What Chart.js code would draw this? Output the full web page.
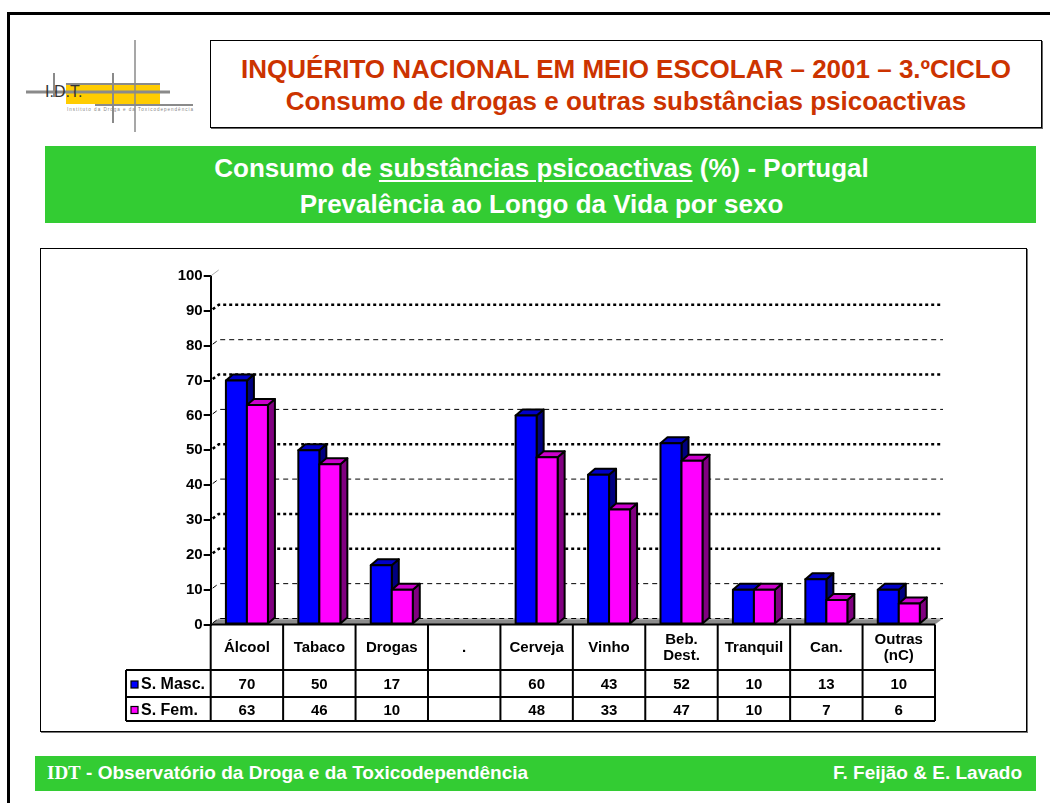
<!DOCTYPE html>
<html lang="pt">
<head>
<meta charset="utf-8">
<title>Consumo de substâncias psicoactivas</title>
<script src="https://cdn.jsdelivr.net/npm/chart.js@4.4.1/dist/chart.umd.min.js"></script>
<style>
html,body{margin:0;padding:0;background:#fff;}
body{position:relative;width:1050px;height:803px;overflow:hidden;font-family:"Liberation Sans",Arial,Helvetica,sans-serif;}
.a{position:absolute;box-sizing:border-box;}
#ft{left:7px;top:12px;width:1043px;height:3px;background:#000;}
#fl{left:7px;top:12px;width:3px;height:791px;background:#000;}
#tbox{left:210px;top:40px;width:832px;height:88px;border:1.5px solid #000;box-shadow:1px 1px 0 #666;}
.t{position:absolute;left:210px;width:832px;text-align:center;font-weight:bold;font-size:26px;line-height:30px;color:#CC3300;white-space:nowrap;}
#gband{left:45px;top:146px;width:991px;height:77px;background:#33CC33;}
.g{position:absolute;left:46px;width:991px;text-align:center;font-weight:bold;font-size:26px;line-height:30px;color:#fff;white-space:nowrap;}
.g u{text-decoration-thickness:2px;text-underline-offset:3px;}
#cbox{left:40px;top:248px;width:987px;height:484px;border:1.5px solid #000;box-shadow:1px 1px 0 #777;}
#chart{position:absolute;left:41px;top:249px;}
#foot{left:35px;top:756px;width:1001px;height:35px;background:#33CC33;}
.f{position:absolute;top:762px;font-weight:bold;font-size:19px;line-height:22px;color:#fff;white-space:nowrap;}
.f .serif{font-family:"Liberation Serif","Times New Roman",serif;}
#logo{position:absolute;left:0;top:0;}
</style>
</head>
<body>
<div class="a" id="ft"></div>
<div class="a" id="fl"></div>

<svg id="logo" width="220" height="140" xmlns="http://www.w3.org/2000/svg">
  <rect x="66" y="85" width="94" height="19" fill="#FFCC00"/>
  <line x1="66" y1="84" x2="160" y2="84" stroke="#8a8a8a" stroke-width="2"/>
  <line x1="26" y1="92" x2="170" y2="92" stroke="#8a8a8a" stroke-width="3"/>
  <line x1="95" y1="105" x2="193" y2="105" stroke="#8a8a8a" stroke-width="2"/>
  <line x1="54" y1="73" x2="54" y2="97" stroke="#8a8a8a" stroke-width="2"/>
  <line x1="113" y1="73" x2="113" y2="123" stroke="#8a8a8a" stroke-width="2"/>
  <line x1="135" y1="40" x2="135" y2="132" stroke="#8a8a8a" stroke-width="1.5"/>
  <text x="45" y="97" font-family="Liberation Sans, Arial" font-size="16" fill="#333">I.D.T.</text>
  <text x="67" y="111" font-family="Liberation Sans, Arial" font-size="4.6" fill="#888" textLength="126">Instituto da Droga e da Toxicodependência</text>
</svg>

<div class="a" id="tbox"></div>
<div class="t" style="top:53.5px">INQUÉRITO NACIONAL EM MEIO ESCOLAR – 2001 – 3.ºCICLO</div>
<div class="t" style="top:85.5px">Consumo de drogas e outras substâncias psicoactivas</div>

<div class="a" id="gband"></div>
<div class="g" style="top:152.5px">Consumo de <u>substâncias psicoactivas</u> (%) - Portugal</div>
<div class="g" style="top:188.5px">Prevalência ao Longo da Vida por sexo</div>

<div class="a" id="cbox"></div>
<canvas id="chart" width="984" height="481"></canvas>

<div class="a" id="foot"></div>
<div class="f" style="left:47px"><span class="serif">IDT</span> - Observatório da Droga e da Toxicodependência</div>
<div class="f" style="right:28px">F. Feijão &amp; E. Lavado</div>

<script>
// ---------- DATA ----------
const categories = ['Álcool', 'Tabaco', 'Drogas', '.', 'Cerveja', 'Vinho', ['Beb.', 'Dest.'], 'Tranquil', 'Can.', ['Outras', '(nC)']];
const seriesNames = ['S. Masc.', 'S. Fem.'];
const mascValues = [70, 50, 17, null, 60, 43, 52, 10, 13, 10];
const femValues  = [63, 46, 10, null, 48, 33, 47, 10, 7, 6];
const yTickValues = [0, 10, 20, 30, 40, 50, 60, 70, 80, 90, 100];

// ---------- STYLE ----------
const thickGridValues = [20, 30, 50, 70, 90];
const FRONT = ['#0000FF', '#FF00FF'];
const SIDE  = ['#000080', '#800080'];
const TOPC  = ['#0000C8', '#CC00CC'];
const DX = 7, DY = 6;          // bar depth
const WX = 8, WY = 6;          // back wall offset
const FONT = '"Liberation Sans", Arial, sans-serif';

function poly(ctx, pts, fill) {
  ctx.beginPath();
  ctx.moveTo(pts[0][0], pts[0][1]);
  for (let k = 1; k < pts.length; k++) ctx.lineTo(pts[k][0], pts[k][1]);
  ctx.closePath();
  ctx.fillStyle = fill;
  ctx.fill();
  ctx.stroke();
}

const bar3d = {
  id: 'bar3d',
  beforeDatasetsDraw(chart) {
    const {ctx, chartArea: ca, scales: {y}} = chart;
    ctx.save();
    const y0 = y.getPixelForValue(0);
    // floor
    ctx.beginPath();
    ctx.moveTo(ca.left, y0); ctx.lineTo(ca.right, y0);
    ctx.lineTo(ca.right + WX, y0 - WY); ctx.lineTo(ca.left + WX, y0 - WY);
    ctx.closePath();
    ctx.fillStyle = '#8c8c8c';
    ctx.fill();
    ctx.strokeStyle = '#c8c8c8'; ctx.lineWidth = 1;
    ctx.beginPath(); ctx.moveTo(ca.left + WX, y0 - WY + 0.5); ctx.lineTo(ca.right + WX, y0 - WY + 0.5); ctx.stroke();
    // top of left wall
    ctx.strokeStyle = '#aaa';
    ctx.beginPath(); ctx.moveTo(ca.left, ca.top); ctx.lineTo(ca.left + WX, ca.top - WY); ctx.stroke();
    // gridlines on back wall
    ctx.strokeStyle = '#000';
    yTickValues.forEach(v => {
      if (v === yTickValues[yTickValues.length - 1]) return;
      const py = y.getPixelForValue(v);
      const thick = thickGridValues.includes(v);
      ctx.lineWidth = thick ? 2.5 : 1;
      ctx.setLineDash(thick ? [3, 3] : [5, 4]);
      ctx.beginPath();
      ctx.moveTo(ca.left + 2, py - 1.5);
      ctx.lineTo(ca.left + WX, py - WY);
      ctx.lineTo(ca.right + WX, py - WY);
      ctx.stroke();
    });
    ctx.restore();
  },
  afterDatasetsDraw(chart) {
    const ctx = chart.ctx;
    ctx.save();
    ctx.lineWidth = 2; ctx.strokeStyle = '#000'; ctx.lineJoin = 'round'; ctx.setLineDash([]);
    for (let i = 0; i < categories.length; i++) {
      for (let d = 0; d < chart.data.datasets.length; d++) {
        const v = chart.data.datasets[d].data[i];
        if (v == null) continue;
        const el = chart.getDatasetMeta(d).data[i];
        const {x, y, base, width} = el.getProps(['x', 'y', 'base', 'width'], true);
        const l = x - width / 2, r = x + width / 2;
        poly(ctx, [[r, base], [r + DX, base - DY], [r + DX, y - DY], [r, y]], SIDE[d]);
        poly(ctx, [[l, y], [l + DX, y - DY], [r + DX, y - DY], [r, y]], TOPC[d]);
        poly(ctx, [[l, y], [r, y], [r, base], [l, base]], FRONT[d]);
      }
    }
    ctx.restore();
  },
  afterDraw(chart) {
    const {ctx, chartArea: ca, scales: {x}} = chart;
    const n = categories.length;
    const catW = (ca.right - ca.left) / n;
    const top = ca.bottom;
    const hB = top + 45.5, r1 = hB + 27, bot = r1 + 24;
    const tl = ca.left - 84.7;
    ctx.save();
    ctx.strokeStyle = '#000'; ctx.lineWidth = 2; ctx.setLineDash([]);
    ctx.beginPath();
    ctx.moveTo(ca.left, top); ctx.lineTo(ca.right, top);
    [hB, r1, bot].forEach(yy => { ctx.moveTo(tl, yy); ctx.lineTo(ca.right, yy); });
    for (let i = 0; i <= n; i++) {
      const xx = ca.left + i * catW;
      ctx.moveTo(xx, top); ctx.lineTo(xx, bot);
    }
    ctx.moveTo(tl, hB); ctx.lineTo(tl, bot);
    ctx.stroke();

    ctx.fillStyle = '#000';
    ctx.font = 'bold 15px ' + FONT;
    ctx.textAlign = 'center'; ctx.textBaseline = 'middle';
    categories.forEach((c, i) => {
      const cx = x.getPixelForValue(i);
      const lines = Array.isArray(c) ? c : [c];
      const cy = (top + hB) / 2 + 1;
      lines.forEach((ln, k) => ctx.fillText(ln, cx, cy + (k - (lines.length - 1) / 2) * 16));
    });
    const rows = [
      {name: seriesNames[0], vals: mascValues, y1: hB, y2: r1, d: 0},
      {name: seriesNames[1], vals: femValues, y1: r1, y2: bot, d: 1}
    ];
    rows.forEach(row => {
      const cy = (row.y1 + row.y2) / 2 + 1.5;
      ctx.fillStyle = FRONT[row.d];
      ctx.fillRect(tl + 5, cy - 4, 7, 7);
      ctx.lineWidth = 1.2;
      ctx.strokeRect(tl + 5, cy - 4, 7, 7);
      ctx.fillStyle = '#000';
      ctx.textAlign = 'left';
      ctx.font = 'bold 16px ' + FONT;
      ctx.fillText(row.name, tl + 15, cy);
      ctx.font = 'bold 15px ' + FONT;
      ctx.textAlign = 'center';
      row.vals.forEach((v, i) => {
        if (v == null) return;
        ctx.fillText(String(v), x.getPixelForValue(i), cy);
      });
    });
    ctx.restore();
  }
};

Chart.defaults.font.family = FONT;

new Chart(document.getElementById('chart'), {
  type: 'bar',
  data: {
    labels: categories,
    datasets: [
      {label: seriesNames[0], data: mascValues, backgroundColor: FRONT[0], borderWidth: 0},
      {label: seriesNames[1], data: femValues, backgroundColor: FRONT[1], borderWidth: 0}
    ]
  },
  options: {
    responsive: false,
    animation: false,
    devicePixelRatio: 1,
    categoryPercentage: 0.58,
    barPercentage: 1,
    layout: {padding: {left: 0, right: 90, top: 27, bottom: 105.5}},
    plugins: {legend: {display: false}, tooltip: {enabled: false}},
    scales: {
      x: {display: false, grid: {display: false}},
      y: {
        min: 0, max: 100,
        afterBuildTicks: s => { s.ticks = yTickValues.map(v => ({value: v})); },
        afterFit: s => { s.width = 169.7; },
        ticks: {color: '#000', font: {size: 15, weight: 'bold'}, padding: 1},
        grid: {drawOnChartArea: false, drawTicks: true, tickLength: 7, color: '#000', lineWidth: 2},
        border: {display: true, color: '#000', width: 2}
      }
    }
  },
  plugins: [bar3d]
});
</script>
</body>
</html>
